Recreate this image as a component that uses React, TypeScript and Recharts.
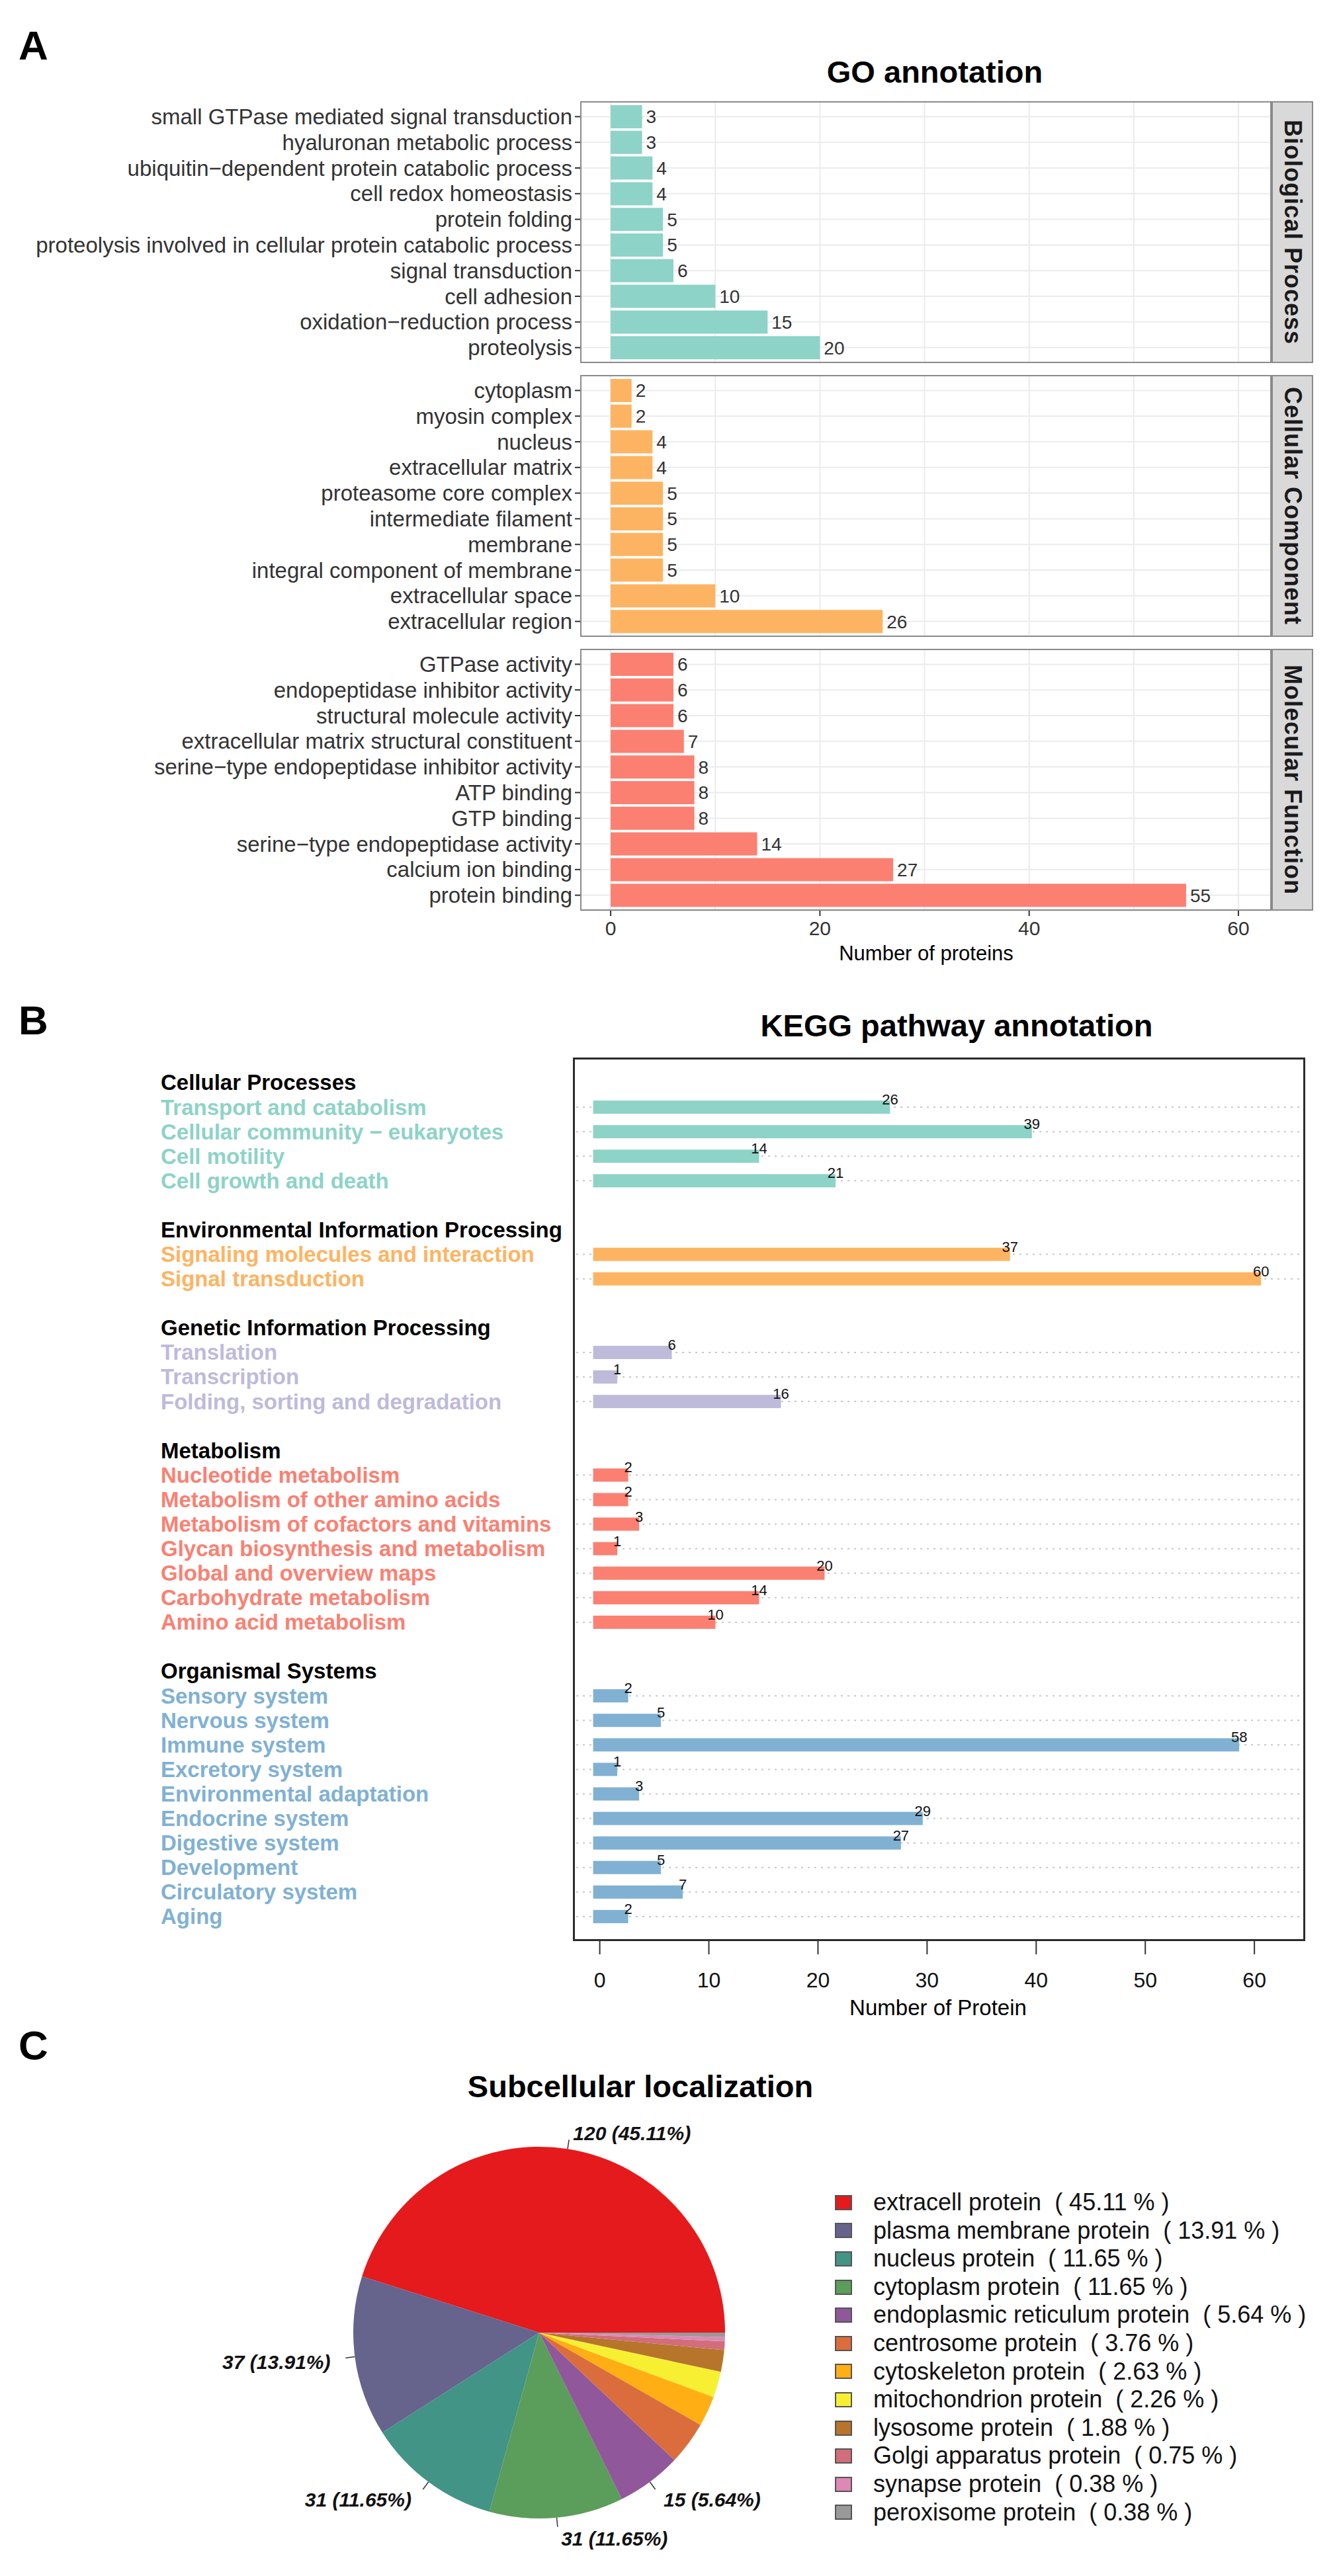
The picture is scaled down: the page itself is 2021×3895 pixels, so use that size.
import React from 'react';
import { BarChart, Bar, XAxis, YAxis, CartesianGrid, LabelList, PieChart, Pie, Cell, Legend } from 'recharts';

const FONT = '"Liberation Sans", Arial, Helvetica, sans-serif';

// ---------- A: GO annotation (each facet listed top to bottom) ----------
const bpTerms = [
  'small GTPase mediated signal transduction',
  'hyaluronan metabolic process',
  'ubiquitin\u2212dependent protein catabolic process',
  'cell redox homeostasis',
  'protein folding',
  'proteolysis involved in cellular protein catabolic process',
  'signal transduction',
  'cell adhesion',
  'oxidation\u2212reduction process',
  'proteolysis',
];
const bpCounts = [3, 3, 4, 4, 5, 5, 6, 10, 15, 20];

const ccTerms = [
  'cytoplasm',
  'myosin complex',
  'nucleus',
  'extracellular matrix',
  'proteasome core complex',
  'intermediate filament',
  'membrane',
  'integral component of membrane',
  'extracellular space',
  'extracellular region',
];
const ccCounts = [2, 2, 4, 4, 5, 5, 5, 5, 10, 26];

const mfTerms = [
  'GTPase activity',
  'endopeptidase inhibitor activity',
  'structural molecule activity',
  'extracellular matrix structural constituent',
  'serine\u2212type endopeptidase inhibitor activity',
  'ATP binding',
  'GTP binding',
  'serine\u2212type endopeptidase activity',
  'calcium ion binding',
  'protein binding',
];
const mfCounts = [6, 6, 6, 7, 8, 8, 8, 14, 27, 55];

const goGridTicks = [0, 10, 20, 30, 40, 50, 60];
const goLabelTicks = [0, 20, 40, 60];

// ---------- B: KEGG pathway annotation ----------
const keggGroups = [
  'Cellular Processes',
  'Environmental Information Processing',
  'Genetic Information Processing',
  'Metabolism',
  'Organismal Systems',
];
const keggColors = ['#8DD3C7', '#FDB462', '#BEBADA', '#FB8072', '#80B1D3'];

const cellularTerms = ['Transport and catabolism', 'Cellular community \u2212 eukaryotes', 'Cell motility', 'Cell growth and death'];
const cellularCounts = [26, 39, 14, 21];
const environmentalTerms = ['Signaling molecules and interaction', 'Signal transduction'];
const environmentalCounts = [37, 60];
const geneticTerms = ['Translation', 'Transcription', 'Folding, sorting and degradation'];
const geneticCounts = [6, 1, 16];
const metabolismTerms = [
  'Nucleotide metabolism',
  'Metabolism of other amino acids',
  'Metabolism of cofactors and vitamins',
  'Glycan biosynthesis and metabolism',
  'Global and overview maps',
  'Carbohydrate metabolism',
  'Amino acid metabolism',
];
const metabolismCounts = [2, 2, 3, 1, 20, 14, 10];
const organismalTerms = [
  'Sensory system',
  'Nervous system',
  'Immune system',
  'Excretory system',
  'Environmental adaptation',
  'Endocrine system',
  'Digestive system',
  'Development',
  'Circulatory system',
  'Aging',
];
const organismalCounts = [2, 5, 58, 1, 3, 29, 27, 5, 7, 2];

const keggTicks = [0, 10, 20, 30, 40, 50, 60];

// ---------- C: Subcellular localization ----------
const locNames = [
  'extracell protein',
  'plasma membrane protein',
  'nucleus protein',
  'cytoplasm protein',
  'endoplasmic reticulum protein',
  'centrosome protein',
  'cytoskeleton protein',
  'mitochondrion protein',
  'lysosome protein',
  'Golgi apparatus protein',
  'synapse protein',
  'peroxisome protein',
];
const locCounts = [120, 37, 31, 31, 15, 10, 7, 6, 5, 2, 1, 1];
const locPercents = ['45.11', '13.91', '11.65', '11.65', '5.64', '3.76', '2.63', '2.26', '1.88', '0.75', '0.38', '0.38'];
const locColors = [
  '#E41A1C', '#66638D', '#419486', '#5B9D5A', '#91579B', '#DA6D3B',
  '#FFAE13', '#F7F032', '#B6752A', '#D26D7A', '#DD88B5', '#999999',
];

// ---------- layout ----------
const GO_LEFT = 878;
const GO_RIGHT = 1921;
const GO_PANEL_H = 396;
const GO_TOPS = [153, 567, 981];
const GO_DOMAIN: [number, number] = [-2.85, 63.1];

const KEGG_LEFT = 867;
const KEGG_RIGHT = 1972;
const KEGG_TOP = 1600;
const KEGG_H = 1334;
const KEGG_LABEL_X = 243;
const KEGG_DOMAIN: [number, number] = [-2.4, 64.6];

const PIE_TOP = 3100;

type KeggRow = { key: string; label: string; value: number | null; kind: 'gap' | 'head' | 'item'; group: number };

const keggTermLists = [cellularTerms, environmentalTerms, geneticTerms, metabolismTerms, organismalTerms];
const keggCountLists = [cellularCounts, environmentalCounts, geneticCounts, metabolismCounts, organismalCounts];

const keggRows: KeggRow[] = [];
keggGroups.forEach((g, gi) => {
  if (gi > 0) keggRows.push({ key: `gap${gi}`, label: '', value: null, kind: 'gap', group: gi });
  keggRows.push({ key: g, label: g, value: null, kind: 'head', group: gi });
  keggTermLists[gi].forEach((t, i) =>
    keggRows.push({ key: t, label: t, value: keggCountLists[gi][i], kind: 'item', group: gi })
  );
});

const pieRows = locNames.map((name, i) => ({ name, count: locCounts[i] }));

// text placed by its baseline
const Txt = ({ x, base, size, bold, anchor = 'start', children }: any) => (
  <div
    style={{
      position: 'absolute',
      left: x,
      top: base - 0.8465 * size,
      fontSize: size,
      lineHeight: 1,
      fontWeight: bold ? 700 : 400,
      whiteSpace: 'nowrap',
      color: '#000',
      transform: anchor === 'middle' ? 'translateX(-50%)' : anchor === 'end' ? 'translateX(-100%)' : undefined,
    }}
  >
    {children}
  </div>
);

const GoYTick = (props: any) => (
  <text x={props.x} y={props.y} dy="0.35em" textAnchor="end" fontSize={33} fill="#333">
    {props.payload.value}
  </text>
);

const GoXTick = (props: any) => {
  const { x, y, payload } = props;
  if (!goLabelTicks.includes(payload.value)) return null;
  return (
    <g>
      <line x1={x} x2={x} y1={y} y2={y + 8} stroke="#333" strokeWidth={2} />
      <text x={x} y={y + 16} dy="0.71em" textAnchor="middle" fontSize={30} fill="#333">
        {payload.value}
      </text>
    </g>
  );
};

const GoFacet = ({ terms, counts, color, strip, top, withAxis }: any) => {
  const data = terms.map((term: string, i: number) => ({ term, count: counts[i] }));
  const axisH = withAxis ? 60 : 0;
  return (
    <div style={{ position: 'absolute', left: 0, top }}>
      <BarChart
        layout="vertical"
        width={GO_RIGHT}
        height={GO_PANEL_H + axisH}
        data={data}
        margin={{ top: 0, right: 0, bottom: 0, left: 0 }}
        barSize={35}
      >
        <CartesianGrid stroke="#EBEBEB" strokeWidth={2} />
        <XAxis
          type="number"
          domain={GO_DOMAIN}
          ticks={goGridTicks}
          interval={0}
          allowDataOverflow
          hide={!withAxis}
          height={axisH}
          tickSize={0}
          tickMargin={0}
          tickLine={false}
          axisLine={false}
          tick={<GoXTick />}
        />
        <YAxis
          type="category"
          dataKey="term"
          width={GO_LEFT}
          interval={0}
          tickSize={9}
          tickMargin={4}
          axisLine={false}
          tickLine={{ stroke: '#333', strokeWidth: 2 }}
          tick={<GoYTick />}
          padding={{ top: 4, bottom: 4 }}
        />
        <Bar dataKey="count" fill={color} isAnimationActive={false}>
          <LabelList dataKey="count" position="right" offset={6} fontSize={28} fill="#333" />
        </Bar>
      </BarChart>
      <div
        style={{
          position: 'absolute',
          left: GO_LEFT - 1,
          top: 0,
          width: GO_RIGHT - GO_LEFT + 2,
          height: GO_PANEL_H,
          border: '2px solid #8a8a8a',
          boxSizing: 'border-box',
          pointerEvents: 'none',
        }}
      />
      <div
        style={{
          position: 'absolute',
          left: GO_RIGHT + 1,
          top: 0,
          width: 63,
          height: GO_PANEL_H,
          background: '#D9D9D9',
          border: '2px solid #8a8a8a',
          boxSizing: 'border-box',
          display: 'flex',
          alignItems: 'center',
          justifyContent: 'center',
        }}
      >
        <span style={{ writingMode: 'vertical-rl', fontSize: 36, fontWeight: 700, color: '#1a1a1a', letterSpacing: 1 }}>
          {strip}
        </span>
      </div>
    </div>
  );
};

const KeggTick = (props: any) => {
  const row = keggRows.find((r) => r.key === props.payload.value);
  if (!row || row.kind === 'gap') return null;
  return (
    <text
      x={KEGG_LABEL_X}
      y={props.y}
      dy="0.36em"
      fontSize={33}
      fontWeight={700}
      fill={row.kind === 'head' ? '#000' : keggColors[row.group]}
    >
      {row.label}
    </text>
  );
};

// bar drawn with square line ends, plus the dotted guide across the box
const KeggBar = (props: any) => {
  const { x, y, width, height, payload, background } = props;
  if (!payload || payload.value == null || !isFinite(width)) return null;
  const cap = height / 2;
  const cy = y + height / 2;
  const bx = background ? background.x : KEGG_LEFT;
  const bw = background ? background.width : KEGG_RIGHT - KEGG_LEFT;
  return (
    <g>
      <line x1={bx + 4} x2={bx + bw - 4} y1={cy} y2={cy} stroke="#c8c8c8" strokeWidth={2} strokeDasharray="3 7" />
      <rect x={x - cap} y={y} width={width + 2 * cap} height={height} fill={keggColors[payload.group]} />
    </g>
  );
};

const KeggValue = (props: any) => {
  if (props.value == null) return null;
  const vb = props.viewBox || props;
  if (!isFinite(vb.x) || !isFinite(vb.width)) return null;
  const cap = vb.height / 2;
  return (
    <text x={vb.x + vb.width + cap} y={vb.y + 6} textAnchor="middle" fontSize={22} fill="#111">
      {props.value}
    </text>
  );
};

const RAD = Math.PI / 180;
const renderPieLabel = (p: any) => {
  const i = p.index;
  if (Number(locPercents[i]) < 5) return null;
  const { cx, cy, midAngle, outerRadius: r } = p;
  const cos = Math.cos(-midAngle * RAD);
  const sin = Math.sin(-midAngle * RAD);
  const right = cos >= 0;
  return (
    <g>
      <line
        x1={cx + r * cos}
        y1={cy + r * sin}
        x2={cx + 1.05 * r * cos}
        y2={cy + 1.05 * r * sin}
        stroke="#333"
        strokeWidth={1.5}
      />
      <text
        x={cx + 1.1 * r * cos + (right ? 4 : -9)}
        y={cy + 1.1 * r * sin + 4}
        dy="0.35em"
        textAnchor={right ? 'start' : 'end'}
        fontSize={30}
        fontWeight={700}
        fontStyle="italic"
        fill="#111"
      >
        {`${locCounts[i]} (${locPercents[i]}%)`}
      </text>
    </g>
  );
};

// legend keeps the data order (the library would sort its payload by name)
const LocLegend = () => (
  <div>
    {locNames.map((name, i) => (
      <div key={name} style={{ height: 42.6, display: 'flex', alignItems: 'center' }}>
        <span
          style={{
            width: 26,
            height: 23,
            background: locColors[i],
            border: '2px solid #555',
            boxSizing: 'border-box',
            flex: 'none',
          }}
        />
        <span style={{ marginLeft: 32, fontSize: 36, lineHeight: '42.6px', whiteSpace: 'pre', color: '#111' }}>
          {`${name}  ( ${locPercents[i]} % )`}
        </span>
      </div>
    ))}
  </div>
);

export default function App() {
  return (
    <div
      style={{
        position: 'absolute',
        left: 0,
        top: 0,
        width: 2021,
        height: 3895,
        background: '#fff',
        fontFamily: FONT,
        overflow: 'hidden',
      }}
    >
      {/* A */}
      <Txt x={28} base={90} size={62} bold>A</Txt>
      <Txt x={1413} base={125} size={47} bold anchor="middle">GO annotation</Txt>
      <GoFacet terms={bpTerms} counts={bpCounts} color="#8DD3C7" strip="Biological Process" top={GO_TOPS[0]} />
      <GoFacet terms={ccTerms} counts={ccCounts} color="#FDB462" strip="Cellular Component" top={GO_TOPS[1]} />
      <GoFacet terms={mfTerms} counts={mfCounts} color="#FB8072" strip="Molecular Function" top={GO_TOPS[2]} withAxis />
      <Txt x={1400} base={1452} size={31} anchor="middle">Number of proteins</Txt>

      {/* B */}
      <Txt x={28} base={1564} size={62} bold>B</Txt>
      <Txt x={1446} base={1567} size={47} bold anchor="middle">KEGG pathway annotation</Txt>
      <div style={{ position: 'absolute', left: 0, top: KEGG_TOP }}>
        <BarChart
          layout="vertical"
          width={KEGG_RIGHT}
          height={KEGG_H + 100}
          data={keggRows}
          margin={{ top: 0, right: 0, bottom: 0, left: 0 }}
          barSize={20}
        >
          <XAxis
            type="number"
            domain={KEGG_DOMAIN}
            ticks={keggTicks}
            interval={0}
            allowDataOverflow
            height={100}
            tickSize={21}
            tickMargin={27}
            axisLine={false}
            tickLine={{ stroke: '#333', strokeWidth: 2 }}
            tick={{ fontSize: 32, fill: '#111' }}
          />
          <YAxis
            type="category"
            dataKey="key"
            width={KEGG_LEFT}
            interval={0}
            axisLine={false}
            tickLine={false}
            tick={<KeggTick />}
            padding={{ top: 18, bottom: 18 }}
          />
          <Bar dataKey="value" shape={<KeggBar />} isAnimationActive={false}>
            <LabelList dataKey="value" content={<KeggValue />} />
          </Bar>
        </BarChart>
        <div
          style={{
            position: 'absolute',
            left: KEGG_LEFT - 1,
            top: -1,
            width: KEGG_RIGHT - KEGG_LEFT + 2,
            height: KEGG_H + 2,
            border: '3px solid #2b2b2b',
            boxSizing: 'border-box',
            pointerEvents: 'none',
          }}
        />
      </div>
      <Txt x={1418} base={3047} size={33} anchor="middle">Number of Protein</Txt>

      {/* C */}
      <Txt x={28} base={3114} size={62} bold>C</Txt>
      <Txt x={968} base={3171} size={47} bold anchor="middle">Subcellular localization</Txt>
      <div style={{ position: 'absolute', left: 0, top: PIE_TOP }}>
        <PieChart width={2021} height={795} margin={{ top: 0, right: 0, bottom: 0, left: 0 }}>
          <Pie
            data={pieRows}
            dataKey="count"
            nameKey="name"
            cx={815}
            cy={427}
            outerRadius={281}
            startAngle={0}
            endAngle={360}
            stroke="none"
            label={renderPieLabel}
            labelLine={false}
            isAnimationActive={false}
          >
            {pieRows.map((r, i) => (
              <Cell key={r.name} fill={locColors[i]} />
            ))}
          </Pie>
          <Legend
            layout="vertical"
            align="right"
            verticalAlign="top"
            content={<LocLegend />}
            wrapperStyle={{ left: 1262, top: 209, width: 759 }}
          />
        </PieChart>
      </div>
    </div>
  );
}
